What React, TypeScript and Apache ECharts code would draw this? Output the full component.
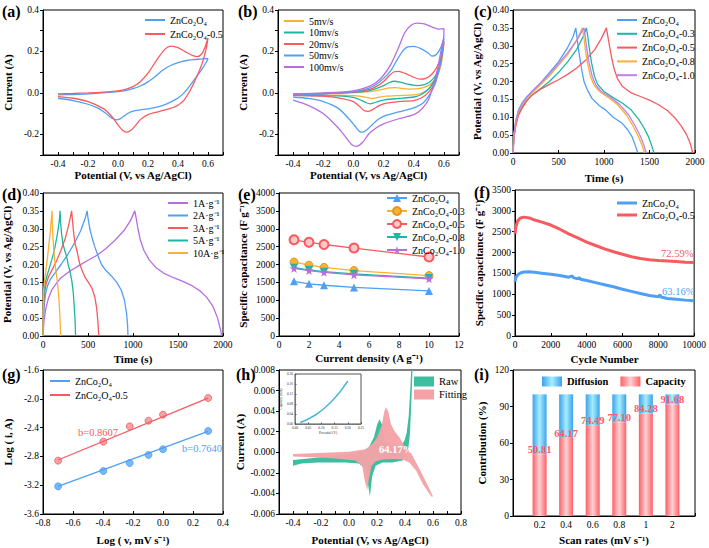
import React, { useEffect, useRef } from 'react';
import * as echarts from 'echarts';

const FONT = '"Liberation Serif", "Times New Roman", serif';
const C = { blue: '#4f9ff5', red: '#f75a5f', teal: '#1db5a3', orange: '#f8b133', purple: '#b86ee0' };

// (a) CV comparison
const aZn = [[-0.4,-0.010],[-0.3,-0.008],[-0.2,-0.005],[-0.1,0.0],[0.0,0.006],[0.05,0.011],[0.1,0.02],[0.15,0.033],[0.2,0.053],[0.25,0.08],[0.3,0.11],[0.35,0.132],[0.4,0.146],[0.45,0.155],[0.5,0.16],[0.55,0.163],[0.6,0.166],
[0.59,0.15],[0.56,0.115],[0.52,0.075],[0.48,0.035],[0.44,0.0],[0.4,-0.025],[0.35,-0.045],[0.3,-0.06],[0.25,-0.07],[0.2,-0.077],[0.15,-0.082],[0.1,-0.088],[0.07,-0.097],[0.04,-0.112],[0.01,-0.127],[-0.01,-0.13],[-0.04,-0.122],[-0.08,-0.1],[-0.13,-0.075],[-0.2,-0.055],[-0.3,-0.037],[-0.4,-0.026]];
const aZn05 = [[-0.4,-0.005],[-0.3,-0.003],[-0.2,0.0],[-0.1,0.004],[0.0,0.01],[0.05,0.017],[0.1,0.03],[0.15,0.055],[0.2,0.095],[0.25,0.15],[0.3,0.2],[0.33,0.22],[0.36,0.226],[0.4,0.218],[0.45,0.198],[0.5,0.18],[0.53,0.175],[0.56,0.19],[0.58,0.22],[0.6,0.265],
[0.59,0.22],[0.56,0.14],[0.52,0.07],[0.48,0.01],[0.44,-0.035],[0.4,-0.06],[0.35,-0.075],[0.3,-0.085],[0.25,-0.094],[0.2,-0.105],[0.15,-0.128],[0.12,-0.155],[0.09,-0.178],[0.06,-0.19],[0.03,-0.18],[0.0,-0.155],[-0.04,-0.115],[-0.1,-0.075],[-0.2,-0.042],[-0.3,-0.026],[-0.4,-0.018]];

// (b) CV at scan rates
const b5 = [[-0.4,-0.006],[-0.2,-0.003],[0.0,0.001],[0.1,0.006],[0.15,0.011],[0.2,0.018],[0.24,0.024],[0.28,0.025],[0.32,0.022],[0.38,0.018],[0.43,0.02],[0.48,0.03],[0.52,0.048],[0.55,0.075],[0.58,0.13],[0.6,0.235],[0.59,0.2],[0.57,0.12],[0.54,0.06],[0.5,0.02],[0.45,-0.002],[0.4,-0.01],[0.3,-0.013],[0.22,-0.016],[0.17,-0.021],[0.13,-0.027],[0.1,-0.024],[0.05,-0.017],[0.0,-0.013],[-0.2,-0.01],[-0.4,-0.01]];
const b10 = [[-0.4,-0.008],[-0.2,-0.004],[0.0,0.002],[0.1,0.01],[0.15,0.02],[0.2,0.035],[0.24,0.05],[0.27,0.056],[0.31,0.052],[0.36,0.042],[0.42,0.035],[0.47,0.04],[0.51,0.055],[0.55,0.09],[0.58,0.15],[0.6,0.25],[0.59,0.21],[0.57,0.13],[0.54,0.065],[0.5,0.02],[0.45,-0.008],[0.4,-0.02],[0.3,-0.027],[0.22,-0.032],[0.17,-0.04],[0.13,-0.05],[0.11,-0.053],[0.08,-0.046],[0.04,-0.032],[0.0,-0.022],[-0.1,-0.015],[-0.4,-0.012]];
const b20 = [[-0.4,-0.009],[-0.2,-0.004],[0.0,0.004],[0.1,0.015],[0.15,0.03],[0.2,0.055],[0.24,0.085],[0.27,0.102],[0.3,0.104],[0.34,0.095],[0.4,0.075],[0.44,0.066],[0.48,0.07],[0.52,0.09],[0.55,0.12],[0.58,0.17],[0.6,0.245],[0.59,0.2],[0.57,0.12],[0.54,0.05],[0.5,0.005],[0.45,-0.025],[0.4,-0.037],[0.3,-0.042],[0.22,-0.05],[0.17,-0.062],[0.13,-0.08],[0.1,-0.089],[0.07,-0.085],[0.04,-0.065],[0.0,-0.042],[-0.1,-0.024],[-0.2,-0.016],[-0.4,-0.012]];
const b50 = [[-0.4,-0.012],[-0.2,-0.005],[0.0,0.006],[0.1,0.022],[0.15,0.04],[0.2,0.07],[0.25,0.11],[0.29,0.16],[0.33,0.205],[0.36,0.222],[0.4,0.224],[0.45,0.212],[0.5,0.19],[0.52,0.177],[0.55,0.185],[0.58,0.22],[0.6,0.265],[0.59,0.2],[0.57,0.12],[0.54,0.04],[0.5,-0.015],[0.46,-0.05],[0.4,-0.072],[0.3,-0.092],[0.22,-0.108],[0.17,-0.125],[0.13,-0.15],[0.09,-0.178],[0.06,-0.19],[0.04,-0.186],[0.01,-0.16],[-0.03,-0.125],[-0.1,-0.075],[-0.2,-0.042],[-0.3,-0.027],[-0.4,-0.02]];
const b100 = [[-0.4,-0.005],[-0.2,0.0],[0.0,0.01],[0.1,0.03],[0.15,0.05],[0.2,0.085],[0.25,0.14],[0.3,0.22],[0.34,0.29],[0.38,0.325],[0.42,0.337],[0.47,0.333],[0.52,0.318],[0.57,0.308],[0.6,0.31],[0.6,0.28],[0.58,0.2],[0.55,0.09],[0.5,-0.03],[0.45,-0.08],[0.4,-0.105],[0.3,-0.125],[0.2,-0.15],[0.15,-0.17],[0.1,-0.2],[0.06,-0.24],[0.02,-0.258],[-0.01,-0.25],[-0.05,-0.215],[-0.1,-0.17],[-0.2,-0.1],[-0.3,-0.06],[-0.4,-0.035]];

// (c) GCD of samples
const cZn = [[0,0],[10,0.05],[30,0.09],[60,0.12],[100,0.14],[150,0.157],[200,0.17],[300,0.195],[400,0.225],[500,0.255],[600,0.295],[660,0.325],[690,0.35],[720,0.29],[750,0.24],[780,0.2],[820,0.175],[870,0.152],[950,0.132],[1020,0.12],[1100,0.1],[1200,0.083],[1260,0.065],[1310,0.045],[1345,0.02],[1372,0]];
const cZn03 = [[0,0],[10,0.045],[30,0.08],[60,0.11],[100,0.13],[150,0.147],[200,0.16],[300,0.18],[400,0.2],[500,0.225],[600,0.255],[700,0.29],[770,0.325],[806,0.35],[820,0.33],[840,0.29],[865,0.25],[895,0.215],[930,0.192],[1000,0.172],[1100,0.155],[1200,0.14],[1300,0.12],[1380,0.095],[1440,0.07],[1490,0.045],[1525,0.02],[1549,0]];
const cZn05 = [[0,0],[10,0.04],[30,0.075],[60,0.105],[100,0.125],[150,0.145],[200,0.16],[300,0.178],[400,0.192],[500,0.205],[600,0.22],[700,0.238],[800,0.26],[900,0.29],[970,0.32],[1026,0.35],[1040,0.33],[1060,0.3],[1085,0.265],[1115,0.232],[1150,0.207],[1200,0.187],[1300,0.168],[1400,0.158],[1500,0.148],[1600,0.135],[1700,0.118],[1780,0.098],[1850,0.075],[1910,0.05],[1950,0.025],[1975,0]];
const cZn08 = [[0,0],[10,0.05],[30,0.085],[60,0.115],[100,0.135],[150,0.152],[200,0.166],[300,0.19],[400,0.215],[500,0.245],[600,0.275],[700,0.315],[762,0.35],[775,0.33],[795,0.29],[820,0.25],[850,0.215],[890,0.19],[950,0.172],[1050,0.155],[1150,0.135],[1250,0.105],[1320,0.075],[1380,0.045],[1420,0.02],[1445,0]];
const cZn10 = [[0,0],[10,0.05],[30,0.088],[60,0.118],[100,0.138],[150,0.155],[200,0.17],[300,0.195],[400,0.22],[500,0.25],[600,0.28],[700,0.315],[780,0.35],[792,0.33],[812,0.29],[838,0.25],[870,0.215],[910,0.19],[970,0.172],[1070,0.156],[1170,0.136],[1270,0.107],[1340,0.077],[1400,0.047],[1440,0.02],[1465,0]];

// (d) GCD at current densities
const d1 = [[0,0],[10,0.04],[30,0.075],[60,0.105],[100,0.13],[150,0.148],[200,0.163],[300,0.182],[400,0.197],[500,0.212],[600,0.226],[700,0.245],[800,0.268],[900,0.295],[970,0.322],[1020,0.35],[1035,0.33],[1055,0.3],[1080,0.27],[1120,0.24],[1180,0.213],[1260,0.19],[1340,0.176],[1450,0.163],[1560,0.152],[1660,0.14],[1740,0.127],[1820,0.108],[1890,0.082],[1940,0.05],[1975,0.015],[1985,0]];
const d2 = [[0,0],[5,0.05],[15,0.09],[30,0.12],[50,0.14],[80,0.158],[120,0.172],[200,0.2],[280,0.23],[350,0.26],[420,0.295],[470,0.33],[490,0.35],[500,0.33],[520,0.3],[545,0.275],[575,0.25],[610,0.225],[650,0.2],[700,0.183],[760,0.168],[820,0.15],[870,0.128],[905,0.1],[928,0.065],[940,0.03],[944,0]];
const d3 = [[0,0],[3,0.05],[10,0.1],[20,0.125],[35,0.145],[60,0.165],[100,0.185],[150,0.21],[200,0.24],[250,0.275],[290,0.315],[318,0.35],[325,0.33],[340,0.29],[355,0.26],[380,0.235],[410,0.2],[440,0.18],[470,0.163],[510,0.148],[545,0.133],[575,0.11],[595,0.08],[610,0.04],[620,0]];
const d5 = [[0,0],[2,0.06],[6,0.1],[12,0.125],[22,0.145],[40,0.165],[70,0.19],[100,0.215],[130,0.245],[160,0.285],[180,0.32],[190,0.35],[195,0.32],[205,0.29],[220,0.26],[240,0.24],[260,0.225],[280,0.2],[300,0.18],[320,0.155],[335,0.125],[348,0.08],[357,0.04],[362,0]];
const d10 = [[0,0],[1,0.06],[3,0.1],[6,0.125],[12,0.145],[22,0.165],[35,0.19],[50,0.22],[65,0.255],[80,0.29],[92,0.325],[100,0.35],[103,0.32],[110,0.28],[120,0.24],[135,0.2],[150,0.17],[165,0.14],[178,0.1],[187,0.06],[193,0.02],[195,0]];

// (e) rate capability
const eDensity = [1, 2, 3, 5, 10];
const eZn = [1530, 1460, 1420, 1360, 1260];
const eZn03 = [2070, 1980, 1920, 1830, 1690];
const eZn05 = [2690, 2620, 2560, 2460, 2210];
const eZn08 = [1910, 1850, 1800, 1740, 1620];
const eZn10 = [1890, 1830, 1780, 1710, 1600];

// (f) cycling
const fZn05 = [[0,2450],[50,2620],[150,2760],[300,2830],[500,2850],[800,2830],[1100,2780],[1500,2730],[2000,2660],[2500,2560],[3000,2450],[3500,2350],[4000,2250],[4500,2170],[5000,2090],[5500,2020],[6000,1960],[6500,1900],[7000,1860],[7500,1830],[8000,1810],[8500,1800],[9000,1785],[9500,1770],[10000,1760]];
const fZn = [[0,1300],[50,1400],[150,1470],[300,1510],[500,1535],[800,1540],[1200,1520],[1600,1500],[2000,1480],[2500,1450],[3000,1410],[3200,1440],[3250,1400],[3500,1370],[3600,1400],[3650,1360],[4000,1330],[4500,1280],[5000,1230],[5500,1180],[6000,1120],[6500,1070],[7000,1020],[7500,970],[8000,940],[8100,990],[8150,935],[8500,900],[9000,880],[9500,860],[10000,845]];

// (g) b-value
const gLogV = [-0.699, -0.398, -0.222, -0.097, 0, 0.301];
const gZn = [-3.216, -3.003, -2.892, -2.78, -2.70, -2.447];
const gZn05 = [-2.859, -2.595, -2.382, -2.304, -2.22, -1.989];
const gFitZn = [[-0.7, -3.215], [0.3, -2.451]];
const gFitZn05 = [[-0.7, -2.85], [0.3, -1.99]];

// (h) capacitive fitting
const hRaw = [[-0.4,-0.00075],[-0.22,-0.0005],[-0.002,-0.0002],[0.094,0.00006],[0.142,0.0005],[0.178,0.00146],[0.202,0.00275],[0.219,0.0032],[0.239,0.0026],[0.258,0.0011],[0.287,0.00065],[0.335,0.0005],[0.371,0.00065],[0.395,0.0011],[0.412,0.0019],[0.427,0.0036],[0.439,0.0065],[0.446,0.0086],
[0.455,0.0086],[0.448,0.0058],[0.436,0.0019],[0.419,-0.00016],[0.383,-0.0008],[0.311,-0.001],[0.239,-0.001],[0.19,-0.0013],[0.166,-0.0023],[0.149,-0.0043],[0.137,-0.0032],[0.118,-0.0016],[0.07,-0.0011],[-0.027,-0.001],[-0.22,-0.001],[-0.34,-0.0011],[-0.4,-0.0013]];
const hFit = [[-0.4,-0.00016],[-0.22,-0.00006],[-0.002,0.00006],[0.118,0.0003],[0.166,0.0008],[0.202,0.00146],[0.234,0.0026],[0.251,0.0039],[0.263,0.0044],[0.282,0.0039],[0.299,0.00275],[0.323,0.0021],[0.359,0.00146],[0.395,0.00065],[0.443,-0.00006],[0.492,-0.0013],[0.54,-0.0026],[0.576,-0.0036],[0.6,-0.0043],
[0.588,-0.0043],[0.528,-0.0031],[0.48,-0.0018],[0.431,-0.001],[0.383,-0.0007],[0.311,-0.00065],[0.239,-0.0007],[0.19,-0.0009],[0.161,-0.0013],[0.142,-0.0026],[0.13,-0.0037],[0.113,-0.0028],[0.094,-0.0013],[0.046,-0.0008],[-0.099,-0.0006],[-0.22,-0.0005],[-0.4,-0.0004]];
const hInset = [[0.02,0.006],[0.05,0.02],[0.08,0.038],[0.11,0.062],[0.14,0.092],[0.17,0.128],[0.19,0.157],[0.2,0.172]];

// (i) contributions
const iRates = ['0.2', '0.4', '0.6', '0.8', '1', '2'];
const iPos = [1, 2, 3, 4, 5, 6];
const iCapacity = [50.81, 64.17, 74.49, 77.10, 84.28, 91.68];
const iDiffusion = [49.19, 35.83, 25.51, 22.90, 15.72, 8.32];

const grids = [
  { left: 43, top: 10, width: 180, height: 145 },
  { left: 278, top: 10, width: 181, height: 145 },
  { left: 513, top: 10, width: 182, height: 143 },
  { left: 43, top: 193, width: 180, height: 143 },
  { left: 279, top: 193, width: 180, height: 143 },
  { left: 515, top: 190, width: 180, height: 146 },
  { left: 43, top: 370, width: 180, height: 144 },
  { left: 279, top: 370, width: 182, height: 144 },
  { left: 513, top: 370, width: 182, height: 146 },
  { left: 295, top: 374, width: 66, height: 50 },
];

const evenTenth = (v: number) => { const k = Math.round(v * 10); return k % 2 === 0 ? (k / 10).toFixed(1) : ''; };
const fx = (n: number) => (v: number) => v.toFixed(n);
const intF = (v: number) => String(Math.round(v));

function xAx(gi: number, min: number, max: number, interval: number, fmt: any, name: string, gap: number, fs = 9.5) {
  return {
    type: 'value', gridIndex: gi, min, max, interval, name, nameLocation: 'middle', nameGap: gap,
    nameTextStyle: { fontFamily: FONT, fontWeight: 'bold', fontSize: 11, color: '#000' },
    axisLine: { show: true, onZero: false, lineStyle: { color: '#000', width: 1 } },
    axisTick: { show: true, inside: true, length: 3, lineStyle: { color: '#000' } },
    axisLabel: { fontFamily: FONT, fontSize: fs, color: '#000', margin: 4, formatter: fmt },
    splitLine: { show: false },
  };
}
function yAx(gi: number, min: number, max: number, interval: number, fmt: any, name: string, gap: number, fs = 9.5) {
  return {
    type: 'value', gridIndex: gi, min, max, interval, name, nameLocation: 'middle', nameGap: gap,
    nameTextStyle: { fontFamily: FONT, fontWeight: 'bold', fontSize: 11, color: '#000' },
    axisLine: { show: true, onZero: false, lineStyle: { color: '#000', width: 1 } },
    axisTick: { show: true, inside: false, length: 3, lineStyle: { color: '#000' } },
    axisLabel: { fontFamily: FONT, fontSize: fs, color: '#000', margin: 4, formatter: fmt },
    splitLine: { show: false },
  };
}

const ln = (gi: number, name: string, data: any, color: string, extra: any = {}) => ({
  type: 'line', name, xAxisIndex: gi, yAxisIndex: gi, data, symbol: 'none',
  lineStyle: { color, width: 1.3 }, itemStyle: { color }, ...extra,
});

const polySeries = (gi: number, name: string, pts: number[][], color: string, opacity: number, z: number) => ({
  type: 'custom', name, xAxisIndex: gi, yAxisIndex: gi, clip: true, z, silent: true,
  itemStyle: { color },
  data: [pts[0]],
  renderItem: (_p: any, api: any) => ({
    type: 'polygon',
    shape: { points: pts.map((p) => api.coord(p)) },
    style: { fill: color, opacity },
  }),
});

const leg = (left: number, top: number, data: any[], gap: number, extra: any = {}) => ({
  left, top, orient: 'vertical', itemWidth: 20, itemHeight: 2, itemGap: gap, padding: 0, icon: 'rect',
  data, formatter: (n: string) => n.split('|')[0],
  textStyle: { fontFamily: FONT, fontSize: 10, color: '#000' },
  selectedMode: false, ...extra,
});

const star = 'path://M50,0 L61,35 L98,35 L68,57 L79,91 L50,70 L21,91 L32,57 L2,35 L39,35 Z';
const downTri = 'path://M0,0 L10,0 L5,9 Z';

const redGrad = new echarts.graphic.LinearGradient(0, 0, 1, 0, [
  { offset: 0, color: '#ff5f66' }, { offset: 0.5, color: '#ffd2d4' }, { offset: 1, color: '#ff5f66' },
]);
const blueGrad = new echarts.graphic.LinearGradient(0, 0, 1, 0, [
  { offset: 0, color: '#3aa2ec' }, { offset: 0.5, color: '#a8edff' }, { offset: 1, color: '#3aa2ec' },
]);

const tag = (x: number, y: number, t: string) => ({
  type: 'text', left: x, top: y, z: 100,
  style: { text: t, font: `bold 16px ${FONT}`, fill: '#000' },
});
const note = (x: number, y: number, t: string, color: string, bold = false) => ({
  type: 'text', x, y, z: 100,
  style: { text: t, font: `${bold ? 'bold ' : ''}10.5px ${FONT}`, fill: color, textVerticalAlign: 'middle' },
});

function buildOption() {
  const gridOpts = grids.map((g, k) => ({
    ...g, show: true, borderColor: k === 9 ? '#555' : '#000', borderWidth: 1,
    backgroundColor: k === 9 ? '#fff' : 'transparent', containLabel: false,
  }));
  const potName = 'Potential (V, vs Ag/AgCl)';
  const xAxis = [
    xAx(0, -0.5, 0.7, 0.1, evenTenth, potName, 12),
    xAx(1, -0.5, 0.7, 0.1, evenTenth, potName, 12),
    xAx(2, 0, 2000, 500, intF, 'Time (s)', 19),
    xAx(3, 0, 2000, 500, intF, 'Time (s)', 17),
    xAx(4, 0, 12, 2, intF, 'Current density (A g⁻¹)', 16),
    xAx(5, 0, 10000, 2000, intF, 'Cycle Number', 17),
    xAx(6, -0.8, 0.4, 0.2, fx(1), 'Log ( v, mV s⁻¹)', 20),
    xAx(7, -0.5, 0.8, 0.1, evenTenth, potName, 20),
    xAx(8, 0, 6.85, 1, (v: number) => iRates[Math.round(v) - 1] ?? '', 'Scan rates (mV s⁻¹)', 18),
    {
      ...xAx(9, 0, 0.25, 0.05, fx(2), 'Potential (V)', 5, 3.5),
      nameTextStyle: { fontFamily: FONT, fontSize: 3.5, color: '#333' },
      axisLabel: { fontFamily: FONT, fontSize: 3.5, color: '#333', margin: 2, formatter: fx(2) },
      axisTick: { show: true, inside: true, length: 1.5, lineStyle: { color: '#555' } },
      axisLine: { show: true, onZero: false, lineStyle: { color: '#555', width: 0.6 } },
    },
  ];
  const yAxis = [
    yAx(0, -0.3, 0.4, 0.1, evenTenth, 'Current (A)', 30),
    yAx(1, -0.3, 0.4, 0.1, evenTenth, 'Current (A)', 30),
    yAx(2, 0, 0.4, 0.05, fx(2), potName, 31),
    yAx(3, 0, 0.4, 0.05, fx(2), potName, 31),
    yAx(4, 0, 4000, 500, intF, 'Specific capacitance (F g⁻¹)', 31),
    yAx(5, 0, 3500, 500, intF, 'Specific capacitance (F g⁻¹)', 31),
    yAx(6, -3.6, -1.6, 0.4, fx(1), 'Log ( i, A)', 30),
    yAx(7, -0.006, 0.008, 0.002, fx(3), 'Current (A)', 34),
    yAx(8, 0, 120, 30, intF, 'Contribution (%)', 26),
    {
      ...yAx(9, 0, 0.2, 0.04, fx(2), 'Capacity (mA)', 9, 3.5),
      nameTextStyle: { fontFamily: FONT, fontSize: 3.5, color: '#333' },
      axisLabel: { fontFamily: FONT, fontSize: 3.5, color: '#333', margin: 2, formatter: fx(2) },
      axisTick: { show: true, inside: true, length: 1.5, lineStyle: { color: '#555' } },
      axisLine: { show: true, onZero: false, lineStyle: { color: '#555', width: 0.6 } },
    },
  ];

  const cv = { smooth: 0.25 };
  const series: any[] = [
    ln(0, 'ZnCo₂O₄|a', aZn, C.blue, cv),
    ln(0, 'ZnCo₂O₄-0.5|a', aZn05, C.red, cv),

    ln(1, '5mv/s', b5, C.orange, cv),
    ln(1, '10mv/s', b10, C.teal, cv),
    ln(1, '20mv/s', b20, C.red, cv),
    ln(1, '50mv/s', b50, C.blue, cv),
    ln(1, '100mv/s', b100, C.purple, cv),

    ln(2, 'ZnCo₂O₄|c', cZn, C.blue),
    ln(2, 'ZnCo₂O₄-0.3|c', cZn03, C.teal),
    ln(2, 'ZnCo₂O₄-0.5|c', cZn05, C.red),
    ln(2, 'ZnCo₂O₄-0.8|c', cZn08, C.orange),
    ln(2, 'ZnCo₂O₄-1.0|c', cZn10, '#c07ff0'),

    ln(3, '1A·g⁻¹', d1, C.purple),
    ln(3, '2A·g⁻¹', d2, C.blue),
    ln(3, '3A·g⁻¹', d3, C.red),
    ln(3, '5A·g⁻¹', d5, C.teal),
    ln(3, '10A·g⁻¹', d10, C.orange),

    ln(4, 'ZnCo₂O₄|e', eDensity.map((x, k) => [x, eZn[k]]), C.blue, { symbol: 'triangle', symbolSize: 8 }),
    ln(4, 'ZnCo₂O₄-0.3|e', eDensity.map((x, k) => [x, eZn03[k]]), C.orange, { symbol: 'circle', symbolSize: 8, itemStyle: { color: '#f8b133', borderColor: '#e09a20', borderWidth: 1 } }),
    ln(4, 'ZnCo₂O₄-0.5|e', eDensity.map((x, k) => [x, eZn05[k]]), C.red, { symbol: 'circle', symbolSize: 9, itemStyle: { color: '#ffc8c8', borderColor: C.red, borderWidth: 2 } }),
    ln(4, 'ZnCo₂O₄-0.8|e', eDensity.map((x, k) => [x, eZn08[k]]), C.teal, { symbol: downTri, symbolSize: 8 }),
    ln(4, 'ZnCo₂O₄-1.0|e', eDensity.map((x, k) => [x, eZn10[k]]), C.purple, { symbol: star, symbolSize: 9 }),

    ln(5, 'ZnCo₂O₄|f', fZn, C.blue, { lineStyle: { color: C.blue, width: 3 } }),
    ln(5, 'ZnCo₂O₄-0.5|f', fZn05, C.red, { lineStyle: { color: C.red, width: 3 } }),

    ln(6, 'ZnCo₂O₄|g', gFitZn, C.blue),
    ln(6, 'ZnCo₂O₄-0.5|g', gFitZn05, C.red),
    { type: 'scatter', name: 'ptsZn', xAxisIndex: 6, yAxisIndex: 6, data: gLogV.map((x, k) => [x, gZn[k]]), symbolSize: 7, itemStyle: { color: '#5aa6f7', borderColor: '#3d8de6', borderWidth: 0.8 } },
    { type: 'scatter', name: 'ptsZn05', xAxisIndex: 6, yAxisIndex: 6, data: gLogV.map((x, k) => [x, gZn05[k]]), symbolSize: 7, itemStyle: { color: '#f88a8e', borderColor: '#e5484e', borderWidth: 0.8 } },

    polySeries(7, 'Raw', hRaw, '#3dbf9f', 1, 2),
    polySeries(7, 'Fitting', hFit, '#f5a2a7', 0.96, 3),
    ln(9, 'inset', hInset, '#49b8d8', { lineStyle: { color: '#49b8d8', width: 1.5 }, smooth: 0.3 }),

    {
      type: 'bar', name: 'Capacity', xAxisIndex: 8, yAxisIndex: 8, barWidth: 14, z: 3,
      data: iPos.map((x, k) => [x, iCapacity[k]]), itemStyle: { color: redGrad },
      label: { show: true, position: 'top', distance: -1, formatter: (p: any) => p.value[1].toFixed(2), fontFamily: FONT, fontSize: 10.5, fontWeight: 'bold', color: '#ff5a62' },
    },
    {
      type: 'custom', name: 'Diffusion', xAxisIndex: 8, yAxisIndex: 8, z: 2,
      itemStyle: { color: '#5cbcf2' },
      encode: { x: 0, y: [1, 2] },
      data: iPos.map((x, k) => [x, iCapacity[k], iDiffusion[k]]),
      renderItem: (_p: any, api: any) => {
        const x = api.value(0), c = api.value(1), d = api.value(2);
        const top = api.coord([x, c + d]);
        const bot = api.coord([x, c]);
        return {
          type: 'rect',
          shape: { x: top[0] - 7, y: top[1], width: 14, height: bot[1] - top[1] },
          style: { fill: blueGrad },
        };
      },
    },
  ];

  const legend = [
    leg(145, 15, ['ZnCo₂O₄|a', 'ZnCo₂O₄-0.5|a'], 4),
    leg(284, 16, ['5mv/s', '10mv/s', '20mv/s', '50mv/s', '100mv/s'], 1.5),
    leg(617, 15, ['ZnCo₂O₄|c', 'ZnCo₂O₄-0.3|c', 'ZnCo₂O₄-0.5|c', 'ZnCo₂O₄-0.8|c', 'ZnCo₂O₄-1.0|c'], 3.8),
    leg(168, 198, ['1A·g⁻¹', '2A·g⁻¹', '3A·g⁻¹', '5A·g⁻¹', '10A·g⁻¹'], 2.5),
    leg(386, 193, ['ZnCo₂O₄|e', 'ZnCo₂O₄-0.3|e', 'ZnCo₂O₄-0.5|e', 'ZnCo₂O₄-0.8|e', 'ZnCo₂O₄-1.0|e'], 3, { icon: undefined, itemHeight: 10 }),
    leg(617, 198, ['ZnCo₂O₄|f', 'ZnCo₂O₄-0.5|f'], 2, { itemHeight: 3 }),
    leg(50, 376, ['ZnCo₂O₄|g', 'ZnCo₂O₄-0.5|g'], 4),
    leg(414, 376, [
      { name: 'Raw', icon: 'rect', itemStyle: { color: '#3dbf9f' } },
      { name: 'Fitting', icon: 'rect', itemStyle: { color: '#f5a2a7' } },
    ], 2, { itemHeight: 10, textStyle: { fontFamily: FONT, fontSize: 10.5, color: '#000' } }),
    leg(542, 376, [
      { name: 'Diffusion', icon: 'rect', itemStyle: { color: blueGrad } },
      { name: 'Capacity', icon: 'rect', itemStyle: { color: redGrad } },
    ], 12, { orient: 'horizontal', itemHeight: 10, textStyle: { fontFamily: FONT, fontSize: 10.5, fontWeight: 'bold', color: '#000' } }),
  ];

  const graphic = [
    tag(2, 3, '(a)'), tag(238, 3, '(b)'), tag(474, 3, '(c)'),
    tag(2, 186, '(d)'), tag(238, 186, '(e)'), tag(474, 184, '(f)'),
    tag(2, 366, '(g)'), tag(236, 366, '(h)'), tag(474, 366, '(i)'),
    note(661, 253, '72.59%', C.red),
    note(662, 291, '63.16%', C.blue),
    note(78, 432, 'b=0.8607', C.red),
    note(182, 448, 'b=0.7640', C.blue),
    note(379, 449, '64.17%', '#ffffff', true),
  ];

  return {
    animation: false,
    backgroundColor: '#fff',
    textStyle: { fontFamily: FONT },
    grid: gridOpts,
    xAxis,
    yAxis,
    series,
    legend,
    graphic,
  };
}

export default function App() {
  const ref = useRef<HTMLDivElement>(null);
  useEffect(() => {
    if (!ref.current) return;
    const chart = echarts.init(ref.current, undefined, { renderer: 'svg' });
    chart.setOption(buildOption() as any);
    return () => chart.dispose();
  }, []);
  return <div ref={ref} style={{ position: 'absolute', left: 0, top: 0, width: 709, height: 548 }} />;
}
